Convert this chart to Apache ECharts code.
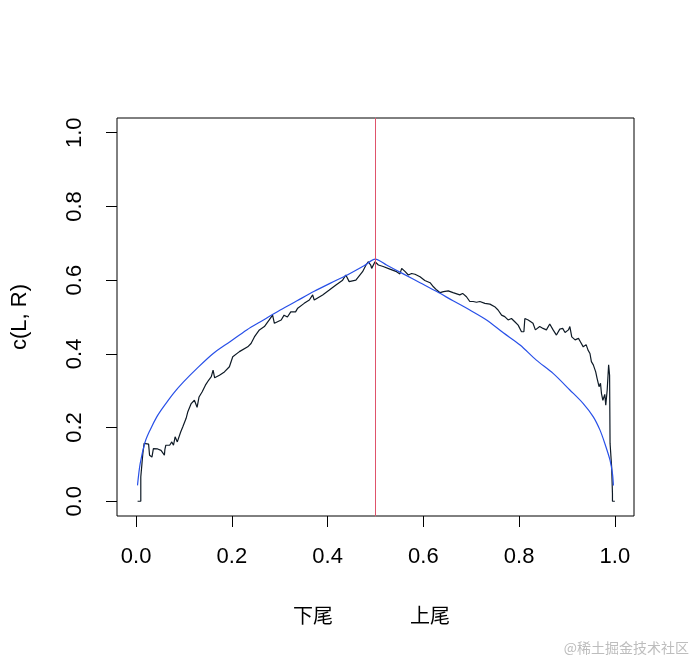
<!DOCTYPE html>
<html>
<head>
<meta charset="utf-8">
<script src="https://cdn.jsdelivr.net/npm/echarts@6.0.0/dist/echarts.min.js"></script>
<style>html,body{margin:0;padding:0;background:#fff;}#c{width:694px;height:663px;}</style>
</head>
<body>
<div id="c"></div>
<script>
// Empirical c(L, R) curve
var empX = [0.003,0.0097,0.0097,0.012,0.014,0.0167,0.026,0.028,0.033,0.035,0.036,0.039,0.045,0.052,0.059,0.06,0.062,0.07,0.0745,0.078,0.0814,0.086,0.09,0.093,0.0975,0.1044,0.108,0.115,0.1217,0.125,0.1273,0.13,0.1314,0.138,0.1447,0.1517,0.157,0.1607,0.164,0.174,0.1844,0.1948,0.2018,0.2157,0.2331,0.24,0.247,0.2574,0.2679,0.278,0.285,0.2888,0.303,0.309,0.316,0.323,0.333,0.3375,0.351,0.3618,0.3687,0.372,0.3896,0.4035,0.4174,0.4313,0.438,0.445,0.459,0.473,0.4802,0.4847,0.49,0.492,0.499,
  0.506,0.516,0.530,0.544,0.551,0.5547,0.562,0.5685,0.5755,0.5825,0.593,0.603,0.614,0.621,0.628,0.635,0.642,0.652,0.662,0.676,0.682,0.690,0.697,0.704,0.711,0.718,0.7215,0.7285,0.739,0.749,0.756,0.7634,0.770,0.777,0.784,0.791,0.798,0.805,0.810,0.812,0.819,0.829,0.834,0.843,0.850,0.857,0.864,0.871,0.878,0.885,0.891,0.896,0.903,0.906,0.910,0.917,0.924,0.928,0.934,0.94,0.944,0.948,0.951,0.955,0.96,0.963,0.967,0.97,0.972,0.975,0.979,0.981,0.984,0.987,0.989,0.990,0.9933,0.995,0.995,1.0];
var empY = [0,0,0.066,0.10,0.13,0.157,0.155,0.125,0.12,0.116,0.143,0.14,0.142,0.138,0.125,0.14,0.152,0.152,0.161,0.152,0.175,0.161,0.161,0.188,0.202,0.225,0.243,0.265,0.274,0.279,0.255,0.255,0.283,0.297,0.315,0.329,0.338,0.356,0.335,0.342,0.351,0.365,0.392,0.406,0.419,0.428,0.446,0.465,0.474,0.492,0.505,0.483,0.492,0.505,0.50,0.514,0.514,0.524,0.537,0.546,0.56,0.546,0.56,0.573,0.587,0.60,0.614,0.596,0.60,0.623,0.641,0.650,0.641,0.632,0.650,
  0.641,0.637,0.63,0.623,0.617,0.632,0.623,0.614,0.618,0.616,0.609,0.599,0.593,0.582,0.573,0.566,0.569,0.571,0.566,0.560,0.564,0.555,0.542,0.542,0.540,0.542,0.546,0.537,0.535,0.528,0.519,0.505,0.501,0.492,0.496,0.487,0.478,0.46,0.46,0.496,0.492,0.483,0.465,0.474,0.469,0.465,0.481,0.465,0.451,0.467,0.469,0.458,0.465,0.474,0.446,0.438,0.442,0.433,0.419,0.425,0.41,0.401,0.379,0.37,0.351,0.333,0.311,0.32,0.293,0.274,0.29,0.261,0.302,0.37,0.342,0.157,0.093,0.02,0,0];
// Fitted curve
var fitX = [0.0028,0.0084,0.0188,0.029,0.0431,0.057,0.078,0.099,0.1266,0.161,0.196,0.231,0.266,0.301,0.336,0.371,0.406,0.441,0.476,0.4996,0.523,0.558,0.593,0.628,0.662,0.697,0.732,0.767,0.802,0.836,0.871,0.906,0.934,0.955,0.969,0.979,0.990,0.995,0.997];
var fitY = [0.043,0.102,0.161,0.193,0.229,0.256,0.293,0.324,0.36,0.401,0.433,0.465,0.492,0.519,0.544,0.569,0.592,0.614,0.639,0.657,0.641,0.617,0.593,0.569,0.544,0.519,0.492,0.457,0.424,0.383,0.347,0.302,0.265,0.229,0.193,0.157,0.111,0.075,0.043];
var tickVals = [0,0.2,0.4,0.6,0.8,1.0];
var splitX = 0.5;
var yTitle = 'c(L, R)';
var xTitleLeft = '下尾';
var xTitleRight = '上尾';
var watermark = '@稀土掘金技术社区';

function pairs(xs, ys){ var out=[]; for(var i=0;i<xs.length;i++) out.push([xs[i], ys[i]]); return out; }

var font = 'Liberation Sans, Arial, sans-serif';
var chart = echarts.init(document.getElementById('c'), null, {renderer:'canvas'});
chart.setOption({
  animation:false,
  backgroundColor:'#fff',
  grid:{left:117, top:118, width:517, height:398, show:true, borderColor:'#000', borderWidth:1, containLabel:false},
  xAxis:{type:'value', min:-0.04, max:1.04,
    axisLine:{show:false, onZero:false}, splitLine:{show:false},
    axisTick:{show:true, inside:false, customValues:tickVals, length:11, lineStyle:{color:'#000', width:1}},
    axisLabel:{customValues:tickVals, formatter:function(v){return v.toFixed(1);}, fontSize:22, color:'#000', margin:30, fontFamily:font}
  },
  yAxis:{type:'value', min:-0.04, max:1.04,
    name:yTitle, nameLocation:'middle', nameGap:86, nameRotate:90,
    nameTextStyle:{fontSize:22, color:'#000', fontFamily:font},
    axisLine:{show:false, onZero:false}, splitLine:{show:false},
    axisTick:{show:true, inside:false, customValues:tickVals, length:11, lineStyle:{color:'#000', width:1}},
    axisLabel:{customValues:tickVals, formatter:function(v){return v.toFixed(1);}, fontSize:22, color:'#000', margin:31, rotate:90, fontFamily:font}
  },
  series:[
    {type:'line', data:pairs(empX, empY), showSymbol:false, symbol:'none', lineStyle:{color:'#0e1a26', width:1.2}, z:2,
     markLine:{silent:true, symbol:['none','none'], label:{show:false}, lineStyle:{color:'#DF536B', type:'solid', width:1}, data:[{xAxis:splitX}]}},
    {type:'line', data:pairs(fitX, fitY), showSymbol:false, symbol:'none', smooth:0.3, lineStyle:{color:'#2850e8', width:1.2}, z:3}
  ],
  graphic:[
    {type:'text', left:293, top:605, style:{text:xTitleLeft, fontSize:20, fill:'#000', fontFamily:'Noto Sans CJK SC'}},
    {type:'text', left:410, top:605, style:{text:xTitleRight, fontSize:20, fill:'#000', fontFamily:'Noto Sans CJK SC'}},
    {type:'text', right:5, top:641, style:{text:watermark, fontSize:14, fill:'#bdbdbd', fontFamily:'Noto Sans CJK SC'}}
  ]
});
</script>
</body>
</html>
